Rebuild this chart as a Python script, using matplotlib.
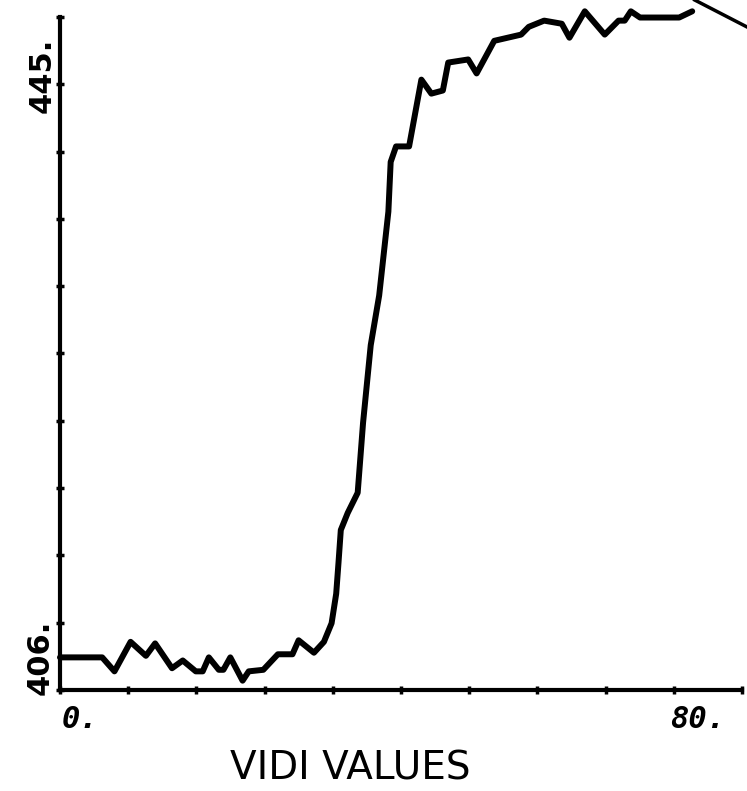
import matplotlib.pyplot as plt
import numpy as np

vidi = [0.0, 5.5, 7.1, 9.2, 11.2, 12.4, 14.6, 16.0, 17.7, 18.6, 19.4, 20.7, 21.3,
        22.2, 23.8, 24.6, 26.5, 28.4, 30.3, 31.1, 33.1, 34.4, 35.4, 36.0, 36.3,
        36.6, 37.5, 38.8, 39.5, 40.5, 41.6, 42.8, 43.1, 43.8, 45.5, 47.1, 48.4,
        49.9, 50.6, 53.2, 54.3, 56.6, 60.1, 61.1, 63.1, 65.4, 66.4, 68.4, 71.0,
        72.8, 73.6, 74.4, 75.6, 80.7, 82.4]
resp = [408.1, 408.1, 407.2, 409.1, 408.2, 409.0, 407.4, 407.9, 407.2, 407.2,
        408.1, 407.3, 407.3, 408.1, 406.6, 407.2, 407.3, 408.3, 408.3, 409.2,
        408.4, 409.1, 410.3, 412.2, 414.2, 416.3, 417.4, 418.7, 423.2, 428.2,
        431.4, 436.8, 440.0, 441.0, 441.0, 445.3, 444.4, 444.6, 446.4, 446.6,
        445.7, 447.8, 448.2, 448.7, 449.1, 448.9, 448.0, 449.7, 448.2, 449.1,
        449.1, 449.7, 449.3, 449.3, 449.7]

x_ticks = np.linspace(0, 80, 10)
x_ticks = np.append(x_ticks, 80 + 80 / 9)
y_ticks = np.linspace(406, 445, 10)
y_ticks = np.append(y_ticks, 445 + 39 / 9)

fig = plt.figure(figsize=(7.47, 7.91), dpi=100)
ax = fig.add_axes([0.0803, 0.1277, 0.913, 0.8508])

ax.plot(vidi, resp, color="black", linewidth=4.3, solid_joinstyle="round",
        solid_capstyle="round", clip_on=False)

ax.set_xlim(0, x_ticks[-1])
ax.set_ylim(406, y_ticks[-1])
ax.set_xticks(x_ticks)
ax.set_yticks(y_ticks)
ax.set_xticklabels([])
ax.set_yticklabels([])
ax.tick_params(direction="inout", length=6, width=2.5, color="black")
for side in ["top", "right"]:
    ax.spines[side].set_visible(False)
for side in ["left", "bottom"]:
    ax.spines[side].set_linewidth(3)

# hand-lettered axis labels
fig.text(0.083, 0.090, "0.", fontsize=22, fontweight="bold", style="italic",
         family="DejaVu Sans Mono", ha="left", va="center")
fig.text(0.897, 0.090, "80.", fontsize=22, fontweight="bold", style="italic",
         family="DejaVu Sans Mono", ha="left", va="center")
fig.text(0.056, 0.905, "445.", fontsize=22, fontweight="bold", rotation=90,
         ha="center", va="center")
fig.text(0.0535, 0.169, "406.", fontsize=22, fontweight="bold", rotation=90,
         ha="center", va="center")
fig.text(0.4685, 0.028, "VIDI VALUES", fontsize=28,
         family=["Liberation Sans Narrow", "DejaVu Sans"], ha="center", va="center")

# stray pen stroke in the top-right corner
fig.add_artist(plt.Line2D([0.930, 1.0], [1.0, 0.9659], color="black",
                          linewidth=2.5, transform=fig.transFigure))

plt.savefig("out.png", dpi=100)
